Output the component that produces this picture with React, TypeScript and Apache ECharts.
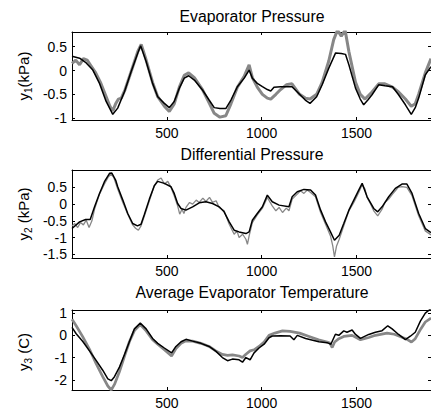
import React, { useEffect, useRef } from 'react';
import * as echarts from 'echarts';

// ---- data (x in samples, y in units of each panel) ----
const xTickValues = [500, 1000, 1500];
const xMin = 0;
const xMax = 1893;

const titles = ['Evaporator Pressure', 'Differential Pressure', 'Average Evaporator Temperature'];
const yNames = [
  ['y', '1', '(kPa)'],
  ['y', '2', ' (kPa)'],
  ['y', '3', ' (C)'],
];
const yRanges = [
  [-1.04, 0.81],
  [-1.61, 1.02],
  [-2.46, 1.14],
];
const yTicks = [
  [-1, -0.5, 0, 0.5],
  [-1.5, -1, -0.5, 0, 0.5],
  [-2, -1, 0, 1],
];

// Panel 1: Evaporator Pressure
const p1BlackX = [0,40,75,110,145,180,215,241,277,312,347,362,391,425,452,487,513,539,566,592,615,645,688,723,750,780,811,838,872,908,934,951,977,1004,1030,1048,1065,1100,1160,1200,1230,1255,1290,1319,1354,1390,1420,1442,1460,1495,1520,1538,1560,1582,1617,1650,1690,1722,1758,1789,1810,1828,1863,1893];
const p1Black = [0.30,0.26,0.16,0.01,-0.27,-0.65,-0.92,-0.79,-0.44,-0.02,0.37,0.52,0.19,-0.27,-0.55,-0.69,-0.78,-0.65,-0.37,-0.16,-0.11,-0.2,-0.41,-0.62,-0.78,-0.8,-0.8,-0.62,-0.34,-0.16,0.01,-0.16,-0.27,-0.34,-0.4,-0.43,-0.35,-0.34,-0.34,-0.5,-0.62,-0.69,-0.55,-0.3,0.05,0.37,0.36,0.34,0.12,-0.37,-0.6,-0.72,-0.62,-0.51,-0.3,-0.32,-0.34,-0.51,-0.72,-0.92,-0.78,-0.58,-0.09,0.08];
const p1GrayX = [0,20,40,60,80,100,125,150,175,200,215,230,245,260,280,312,347,365,391,425,452,487,513,539,566,592,615,645,688,723,750,780,811,838,872,908,934,951,977,1004,1030,1048,1075,1100,1130,1160,1200,1230,1255,1290,1319,1354,1380,1400,1420,1440,1460,1495,1520,1545,1582,1617,1650,1690,1722,1758,1789,1810,1828,1863,1893];
const p1Gray = [0.15,0.22,0.12,0.25,0.22,0.1,-0.05,-0.25,-0.5,-0.75,-0.85,-0.7,-0.6,-0.58,-0.4,-0.02,0.4,0.55,0.22,-0.25,-0.55,-0.75,-0.86,-0.7,-0.35,-0.1,-0.05,-0.15,-0.4,-0.68,-0.9,-0.98,-0.95,-0.7,-0.35,-0.12,0.12,-0.15,-0.35,-0.5,-0.58,-0.6,-0.5,-0.4,-0.3,-0.28,-0.5,-0.58,-0.6,-0.5,-0.25,0.2,0.65,0.85,0.72,0.85,0.4,-0.25,-0.5,-0.6,-0.45,-0.28,-0.28,-0.35,-0.45,-0.6,-0.75,-0.7,-0.5,-0.05,0.25];

// Panel 2: Differential Pressure
const p2BlackX = [0,40,72,96,119,145,171,198,210,230,241,268,294,320,345,364,382,408,434,452,487,522,539,557,575,601,636,671,706,741,776,802,829,855,881,917,934,951,977,1004,1030,1056,1092,1144,1161,1188,1223,1258,1284,1311,1337,1363,1384,1409,1433,1460,1486,1512,1530,1556,1591,1612,1635,1670,1705,1740,1766,1793,1828,1863,1893];
const p2Black = [-0.73,-0.53,-0.46,-0.46,-0.08,0.32,0.67,0.92,0.93,0.72,0.52,0.12,-0.28,-0.58,-0.65,-0.6,-0.3,0.15,0.55,0.68,0.62,0.52,0.32,0.02,-0.13,-0.18,-0.08,0.04,0.07,0.02,-0.08,-0.23,-0.53,-0.78,-0.83,-0.88,-0.83,-0.48,-0.28,-0.08,0.27,0.07,-0.03,-0.08,0.22,0.37,0.44,0.42,0.27,-0.18,-0.53,-0.83,-1.08,-0.93,-0.58,-0.18,0.12,0.42,0.62,0.22,-0.13,-0.23,-0.08,0.22,0.47,0.6,0.6,0.32,-0.28,-0.73,-0.85];
const p2GrayX = [0,15,30,45,60,75,90,105,119,145,171,190,205,220,241,268,294,320,335,350,364,382,408,434,452,470,487,505,522,539,557,568,580,590,601,620,636,655,671,690,706,725,741,760,776,802,829,855,870,881,900,917,925,934,951,977,1004,1030,1045,1056,1075,1092,1110,1130,1144,1161,1188,1205,1223,1240,1258,1284,1311,1337,1363,1375,1384,1395,1409,1433,1460,1486,1512,1530,1545,1556,1575,1591,1612,1635,1650,1670,1690,1705,1720,1740,1766,1793,1828,1863,1893];
const p2Gray = [-0.65,-0.58,-0.7,-0.55,-0.62,-0.48,-0.7,-0.5,-0.15,0.3,0.6,0.8,0.9,0.8,0.45,0.05,-0.3,-0.62,-0.72,-0.78,-0.65,-0.35,0.1,0.55,0.72,0.78,0.6,0.68,0.5,0.25,-0.05,-0.3,-0.15,-0.28,-0.1,0.05,0.0,0.12,0.05,0.18,0.08,0.2,0.05,0.1,-0.1,-0.2,-0.6,-0.9,-0.8,-1.0,-0.9,-1.05,-1.2,-0.95,-0.55,-0.32,-0.12,0.2,0.05,-0.05,-0.2,-0.1,-0.25,-0.12,-0.2,0.15,0.3,0.4,0.32,0.42,0.35,0.22,-0.25,-0.6,-0.95,-1.25,-1.58,-1.25,-1.05,-0.65,-0.2,0.05,0.35,0.58,0.45,0.2,0.0,-0.2,-0.35,-0.15,0.05,0.15,0.3,0.4,0.5,0.52,0.5,0.25,-0.35,-0.8,-0.92];

// Panel 3: Average Evaporator Temperature
const p3BlackX = [0,22,57,93,128,162,189,207,224,250,277,303,329,360,391,425,452,487,525,548,575,601,636,680,723,758,793,820,846,881,899,917,939,960,986,1013,1039,1056,1100,1150,1170,1188,1232,1302,1345,1365,1389,1407,1433,1450,1477,1495,1521,1565,1600,1635,1665,1688,1722,1758,1784,1810,1837,1863,1893];
const p3Black = [0.36,0.07,-0.28,-0.71,-1.14,-1.57,-1.96,-2.04,-1.86,-1.43,-0.86,-0.28,0.29,0.55,0.29,-0.14,-0.36,-0.57,-0.79,-0.5,-0.29,-0.18,-0.26,-0.36,-0.5,-0.71,-1.0,-1.14,-1.07,-1.1,-1.21,-1.0,-1.1,-0.79,-0.57,-0.4,-0.11,-0.03,-0.02,-0.03,-0.2,0.0,-0.14,-0.29,-0.33,-0.4,0.05,0.0,0.2,0.14,0.24,0.04,-0.14,0.04,0.14,0.21,0.43,0.29,0.04,-0.19,-0.04,0.14,0.64,1.0,1.2];
const p3GrayX = [0,22,57,93,128,162,189,207,224,250,277,303,329,360,391,425,452,487,525,548,575,601,636,680,723,758,793,820,846,881,899,917,939,960,986,1013,1039,1070,1110,1150,1200,1250,1300,1345,1360,1372,1385,1407,1433,1477,1521,1565,1600,1661,1700,1760,1790,1810,1840,1863,1893];
const p3Gray = [0.72,0.43,-0.07,-0.64,-1.29,-1.86,-2.28,-2.46,-2.21,-1.64,-0.93,-0.28,0.21,0.48,0.2,-0.2,-0.4,-0.65,-0.93,-0.6,-0.36,-0.25,-0.26,-0.36,-0.5,-0.7,-0.86,-0.9,-0.88,-0.93,-1.0,-0.85,-0.7,-0.65,-0.5,-0.3,0.0,0.1,0.2,0.18,0.1,-0.05,-0.2,-0.3,-0.35,-0.55,-0.3,-0.15,-0.05,0.0,-0.2,-0.1,0.0,0.1,0.05,-0.15,-0.3,-0.15,0.3,0.6,0.78];

const blackSeries = [
  [p1BlackX, p1Black],
  [p2BlackX, p2Black],
  [p3BlackX, p3Black],
];
const graySeries = [
  [p1GrayX, p1Gray],
  [p2GrayX, p2Gray],
  [p3GrayX, p3Gray],
];

// ---- layout ----
const W = 431;
const H = 410;
const GRID_LEFT = 72;
const GRID_WIDTH = 360;
const gridTops = [32, 170, 310];
const gridHeights = [88, 88, 84];
const titleYs = [16, 154, 292];
const FONT = 'Liberation Sans, Arial, Helvetica, sans-serif';
const GRAY = '#878787';
const grayWidths = [3, 1.3, 2.7];

const zip = (xs: number[], ys: number[]) => xs.map((x, i) => [x, ys[i]]);

export default function App() {
  const ref = useRef<HTMLDivElement>(null);
  useEffect(() => {
    if (!ref.current) return;
    const chart = echarts.init(ref.current, undefined, { renderer: 'svg' });
    const axisLine = { show: true, onZero: false, lineStyle: { color: '#000', width: 1 } };
    const tick = { show: true, inside: true, length: 3, lineStyle: { color: '#000', width: 1 } };
    const grid: any[] = [];
    const xAxis: any[] = [];
    const yAxis: any[] = [];
    const series: any[] = [];
    const graphic: any[] = [];
    for (let i = 0; i < 3; i++) {
      grid.push({ left: GRID_LEFT, width: GRID_WIDTH, top: gridTops[i], height: gridHeights[i], show: false });
      const xb = {
        type: 'value', gridIndex: i, min: xMin, max: xMax, interval: 500,
        splitLine: { show: false }, axisLine, axisTick: tick,
      };
      xAxis.push({
        ...xb, position: 'bottom',
        axisLabel: {
          show: true, color: '#000', fontSize: 14, fontFamily: FONT, margin: 6,
          showMinLabel: false, showMaxLabel: false,
          formatter: (v: number) => (xTickValues.indexOf(v) >= 0 ? String(v) : ''),
        },
      });
      xAxis.push({ ...xb, position: 'top', axisLabel: { show: false } });
      const yb = {
        type: 'value', gridIndex: i, min: yRanges[i][0], max: yRanges[i][1],
        splitLine: { show: false }, axisLine,
        axisTick: { ...tick, customValues: yTicks[i] },
      };
      yAxis.push({
        ...yb, position: 'left',
        axisLabel: {
          show: true, color: '#000', fontSize: 14, fontFamily: FONT, margin: 5,
          customValues: yTicks[i],
          formatter: (v: number) => String(v),
        },
      });
      yAxis.push({ ...yb, position: 'right', axisLabel: { show: false } });
      series.push({
        type: 'line', xAxisIndex: 2 * i, yAxisIndex: 2 * i, data: zip(graySeries[i][0], graySeries[i][1]),
        symbol: 'none', lineStyle: { color: GRAY, width: grayWidths[i] }, silent: true, z: 2,
      });
      series.push({
        type: 'line', xAxisIndex: 2 * i, yAxisIndex: 2 * i, data: zip(blackSeries[i][0], blackSeries[i][1]),
        symbol: 'none', lineStyle: { color: '#000', width: 1.5 }, silent: true, z: 3,
      });
      graphic.push({
        type: 'text', x: GRID_LEFT + GRID_WIDTH / 2, y: titleYs[i], silent: true,
        style: { text: titles[i], fill: '#000', fontSize: 15.8, fontFamily: FONT, align: 'center', verticalAlign: 'middle' },
      });
      const [a, b, c] = yNames[i];
      graphic.push({
        type: 'text', x: 23, y: gridTops[i] + gridHeights[i] / 2, rotation: Math.PI / 2, silent: true,
        style: {
          text: `{a|${a}}{b|${b}}{a|${c}}`, align: 'center', verticalAlign: 'middle', fill: '#000',
          rich: {
            a: { fontSize: 15, fontFamily: FONT, fill: '#000', lineHeight: 20, verticalAlign: 'middle' },
            b: { fontSize: 10, fontFamily: FONT, fill: '#000', lineHeight: 11, verticalAlign: 'bottom' },
          },
        },
      });
    }
    chart.setOption({
      animation: false,
      backgroundColor: '#fff',
      grid, xAxis, yAxis, series, graphic,
    });
    return () => chart.dispose();
  }, []);
  return <div ref={ref} style={{ position: 'absolute', left: 0, top: 0, width: W, height: H }} />;
}
